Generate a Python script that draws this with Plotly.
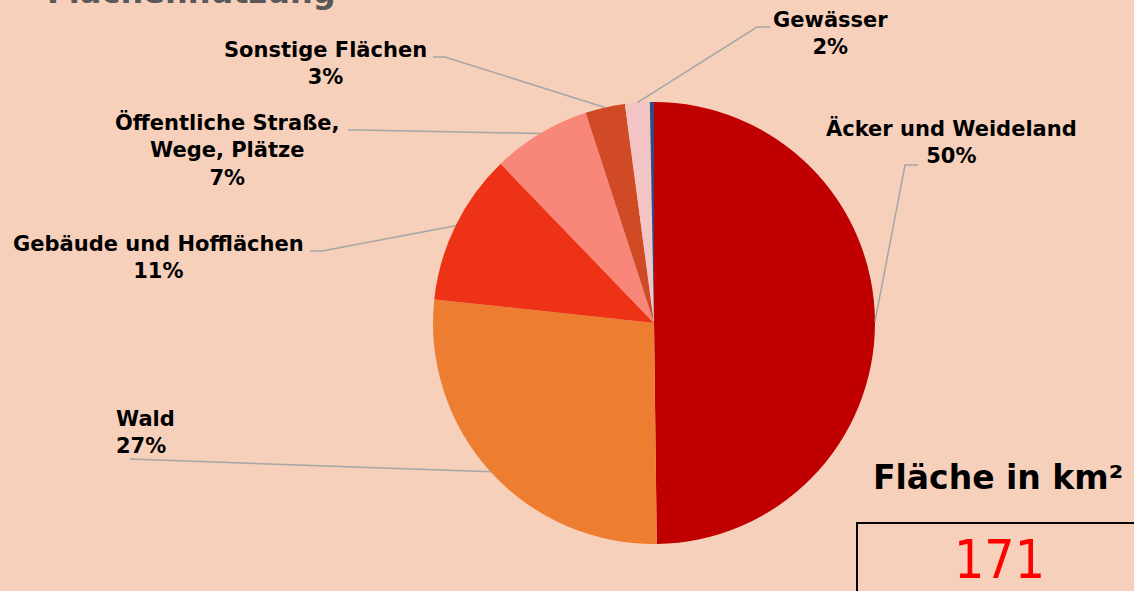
import math
import plotly.graph_objects as go

# ---- data ----
categories = ["Äcker und Weideland", "Wald", "Gebäude und Hofflächen",
              "Öffentliche Straße,\nWege, Plätze", "Sonstige Flächen", "Gewässer", "Übrige"]
shares = [49.8, 26.9, 11.1, 7.2, 2.9, 1.8, 0.3]
colors = ["#C00000", "#ED7D31", "#EE3216", "#F8877A", "#CF4A25", "#F2C4C3", "#2E4D83"]
show_label = [True, True, True, True, True, True, False]
title_text = "Flächennutzung"
area_title = "Fläche in km²"
area_value = 171

# ---- layout helpers ----
W, H = 1134, 591
BG = "#F7D0BB"
cx, cy, r = 654, 323, 221

def px(x):
    return x / W

def py(y):
    return 1 - y / H

# label placement (pixels): anchor x, center y, xanchor, elbow points
label_pos = {
    0: dict(x=951, y=142, xanchor="center", align="center", elbow=[(918, 165), (905, 165)]),
    1: dict(x=114, y=432, xanchor="left", align="left", elbow=[(130, 459)]),
    2: dict(x=158, y=257, xanchor="center", align="center", elbow=[(310, 251), (322, 251)]),
    3: dict(x=227, y=150, xanchor="center", align="center", elbow=[(348, 130), (360, 130)]),
    4: dict(x=325, y=64, xanchor="center", align="center", elbow=[(433, 57), (445, 57)]),
    5: dict(x=830, y=33, xanchor="center", align="center", elbow=[(770, 27), (757, 27)]),
}

fig = go.Figure()
fig.add_trace(go.Pie(
    labels=[c.replace("\n", " ") for c in categories],
    values=shares,
    sort=False,
    direction="clockwise",
    rotation=0,
    marker=dict(colors=colors, line=dict(width=0)),
    textinfo="none",
    hoverinfo="label+percent",
    showlegend=False,
    domain=dict(x=[px(cx - r), px(cx + r)], y=[py(cy + r), py(cy - r)]),
))

total = sum(shares)
annotations = []
shapes = []
cum = 0.0
for i, (cat, v) in enumerate(zip(categories, shares)):
    mid = (cum + v / 2) / total
    cum += v
    if not show_label[i]:
        continue
    ang = 2 * math.pi * mid
    ex = cx + r * math.sin(ang)
    ey = cy - r * math.cos(ang)
    lp = label_pos[i]
    pct = round(v / total * 100)
    annotations.append(dict(
        x=px(lp["x"]), y=py(lp["y"]), xref="paper", yref="paper",
        xanchor=lp["xanchor"], yanchor="middle", align=lp["align"],
        text="<b>" + cat.replace("\n", "<br>") + f"<br>{pct}%</b>",
        showarrow=False,
        font=dict(family="DejaVu Sans", size=21, color="#000000"),
    ))
    pts = lp["elbow"] + [(ex, ey)]
    path = "M " + " L ".join(f"{px(x):.5f},{py(y):.5f}" for x, y in pts)
    shapes.append(dict(type="path", path=path, xref="paper", yref="paper",
                       line=dict(color="#A6A6A6", width=1.5)))

# title (cut off at top, as in the original)
annotations.append(dict(
    x=px(45), y=py(13), xref="paper", yref="paper", xanchor="left", yanchor="bottom",
    text=f"<b>{title_text}</b>", showarrow=False,
    font=dict(family="DejaVu Sans", size=32, color="#595959"),
))
# area box
annotations.append(dict(
    x=px(998), y=py(478), xref="paper", yref="paper", xanchor="center", yanchor="middle",
    text=f"<b>{area_title}</b>", showarrow=False,
    font=dict(family="DejaVu Sans", size=33, color="#000000"),
))
annotations.append(dict(
    x=px(999), y=py(559), xref="paper", yref="paper", xanchor="center", yanchor="middle",
    text=f"{area_value}", showarrow=False,
    font=dict(family="DejaVu Sans Condensed, DejaVu Sans", size=53, color="#FF0000"),
))
shapes.append(dict(type="rect", xref="paper", yref="paper",
                   x0=px(857), x1=px(1150), y0=py(620), y1=py(523),
                   line=dict(color="#000000", width=2), fillcolor="rgba(0,0,0,0)"))

fig.update_layout(
    width=W, height=H,
    margin=dict(l=0, r=0, t=0, b=0),
    paper_bgcolor=BG, plot_bgcolor=BG,
    annotations=annotations,
    shapes=shapes,
)

fig.write_html("out.html")
